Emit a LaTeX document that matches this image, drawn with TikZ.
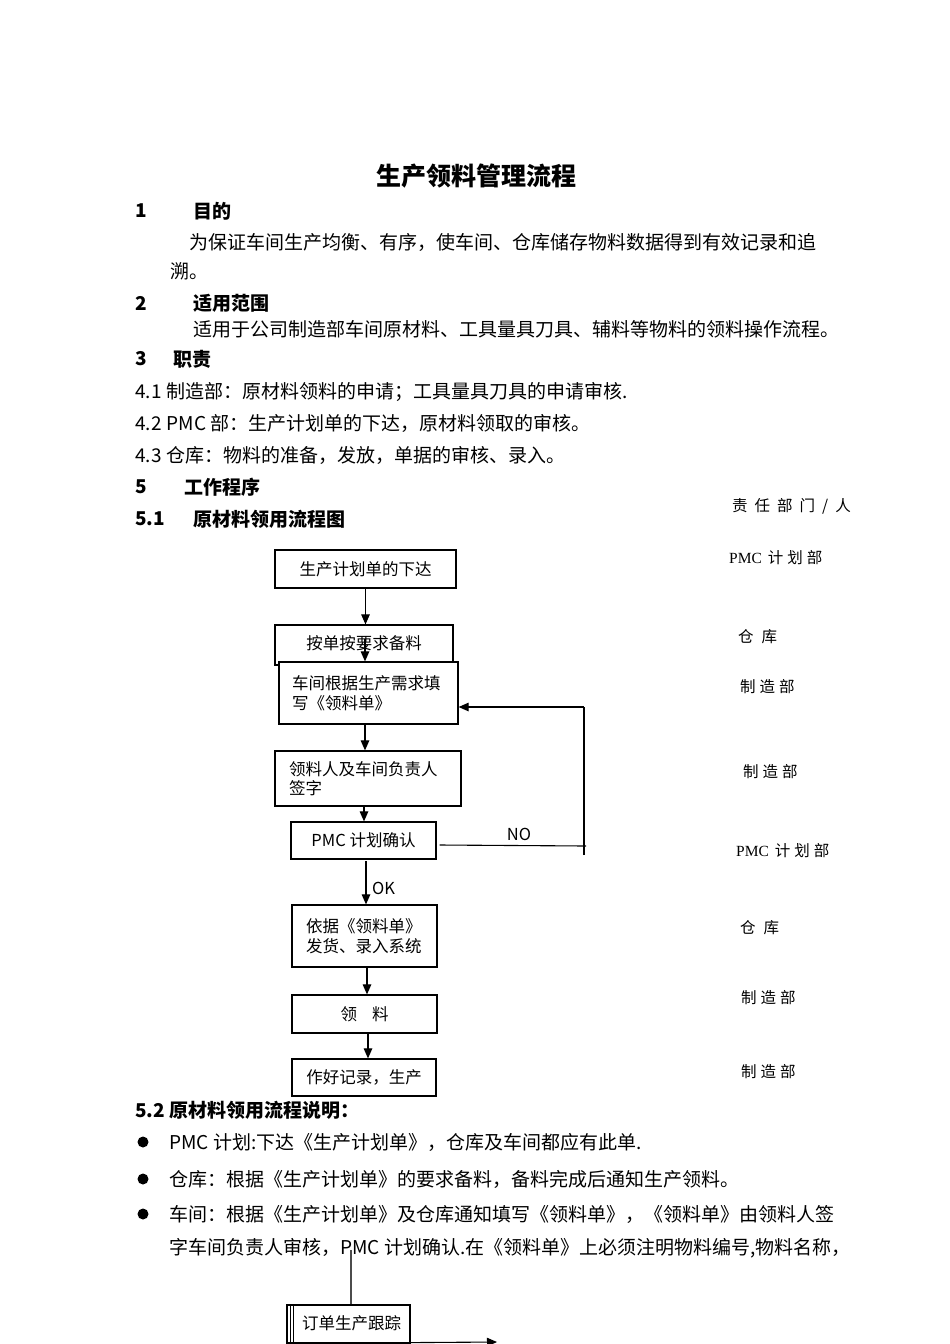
\documentclass[tikz,border=0pt]{standalone}
\usepackage{fontspec}
\setmainfont{Noto Sans CJK SC}
\newfontfamily\tms{Liberation Serif}
\usetikzlibrary{arrows.meta}
\newcommand{\bodysz}{\fontsize{19}{22}\selectfont}
\newcommand{\boxsz}{\fontsize{16.5}{19.5}\selectfont}
\newcommand{\lblsz}{\fontsize{15.5}{18}\selectfont}
\newcommand{\kw}{\kern7pt}
\newcommand{\kn}{\kern4pt}
\tikzset{
  txt/.style={anchor=west, inner sep=0pt, font=\bodysz},
  hd/.style={anchor=west, inner sep=0pt, font=\bodysz\bfseries},
  lbl/.style={anchor=west, inner sep=0pt, font=\lblsz},
  box/.style={draw, line width=1.2pt, inner sep=0pt, font=\boxsz, fill=white},
  mbox/.style={box, align=left, inner ysep=0pt},
  arr/.style={-{Triangle[length=10pt,width=8.5pt]}, line width=1.1pt},
  ln/.style={line width=1.1pt},
  dot/.style={circle, fill=black, inner sep=0pt, minimum size=11pt}
}
\begin{document}
\begin{tikzpicture}[x=1pt,y=-1pt]
\useasboundingbox (0,0) rectangle (950,1344);
% title
\node[inner sep=0pt, font=\fontsize{25}{28}\selectfont\bfseries] (title) at (476,176) {生产领料管理流程};
% section 1
\node[hd] (n1) at (135,211) {1};
\node[hd] (h1) at (193,211) {目的};
\node[txt] (p1a) at (189,242) {为保证车间生产均衡、有序，使车间、仓库储存物料数据得到有效记录和追};
\node[txt] (p1b) at (170,271) {溯。};
% section 2
\node[hd] (n2) at (135,303) {2};
\node[hd] (h2) at (193,303) {适用范围};
\node[txt] (p2) at (193,329) {适用于公司制造部车间原材料、工具量具刀具、辅料等物料的领料操作流程。};
% section 3
\node[hd] (n3) at (135,359) {3};
\node[hd] (h3) at (173,359) {职责};
\node[txt] (p41) at (135,392) {4.1\kern5pt 制造部：原材料领料的申请；工具量具刀具的申请审核.};
\node[txt] (p42) at (135,423) {4.2\kern5pt PMC 部：生产计划单的下达，原材料领取的审核。};
\node[txt] (p43) at (135,455) {4.3\kern5pt 仓库：物料的准备，发放，单据的审核、录入。};
% section 5
\node[hd] (n5) at (135,487) {5};
\node[hd] (h5) at (184,487) {工作程序};
\node[hd] (n51) at (135,519) {5.1};
\node[hd] (h51) at (193,519) {原材料领用流程图};
% responsibility column
\node[lbl] (r0) at (732,506) {责\kw 任\kw 部\kw 门\kw /\kw 人};
\node[lbl] (r1) at (729,558) {{\tms PMC}\kern6pt 计\kn 划\kn 部};
\node[lbl] (r2) at (738,637) {仓\kern8pt 库};
\node[lbl] (r3) at (740,687) {制\kn 造\kn 部};
\node[lbl] (r4) at (743,772) {制\kn 造\kn 部};
\node[lbl] (r5) at (736,851) {{\tms PMC}\kern6pt 计\kn 划\kn 部};
\node[lbl] (r6) at (740,928) {仓\kern8pt 库};
\node[lbl] (r7) at (741,998) {制\kn 造\kn 部};
\node[lbl] (r8) at (741,1072) {制\kn 造\kn 部};
% flowchart boxes
\node[box, minimum width=181pt, minimum height=38pt] (b1) at (365.5,569) {生产计划单的下达};
\node[box, minimum width=178pt, minimum height=40pt, text depth=4pt] (b2) at (364,645) {按单按要求备料};
\node[mbox, text width=153pt, inner xsep=13pt, minimum height=62pt] (b3) at (368.5,693) {车间根据生产需求填\\写《领料单》};
\node[mbox, text width=158pt, inner xsep=14pt, minimum height=55pt] (b4) at (368,778.5) {领料人及车间负责人\\签字};
\node[box, minimum width=145pt, minimum height=37pt] (b5) at (363.5,840.5) {PMC 计划确认};
\node[mbox, text width=117pt, inner xsep=14pt, minimum height=62pt] (b6) at (364.5,936) {依据《领料单》\\发货、录入系统};
\node[box, minimum width=145pt, minimum height=38pt] (b7) at (364.5,1014) {领\hspace{15pt}料};
\node[box, minimum width=144pt, minimum height=37pt] (b8) at (364,1077.5) {作好记录，生产};
% connectors
\draw[arr] (b1.south) -- (b1.south |- b2.north);
\coordinate (a2) at (365,639);
\draw[arr] (a2) -- (a2 |- b3.north);
\coordinate (a3) at (365,724);
\draw[arr] (a3) -- (a3 |- b4.north);
\coordinate (a4) at (364,806);
\draw[arr] (a4) -- (a4 |- b5.north);
\coordinate (a5) at (366,861);
\draw[arr] (a5) -- (a5 |- b6.north);
\node[inner sep=0pt, anchor=west, font=\boxsz] (ok) at (372,888) {OK};
\coordinate (a6) at (367,968);
\draw[arr] (a6) -- (a6 |- b7.north);
\coordinate (a7) at (368,1034);
\draw[arr] (a7) -- (a7 |- b8.north);
% NO loop
\coordinate (nr) at (586,846);
\coordinate (nb) at (584,855);
\coordinate (nt) at (584,707);
\draw[ln] ([xshift=3pt,yshift=-4.5pt]b5.east) -- (nr);
\draw[ln] (nb) -- (nt);
\draw[arr] (nt) -- (b3.east |- nt);
\node[inner sep=0pt, font=\boxsz] (no) at (519,834) {NO};
% section 5.2
\node[hd] (h52) at (135,1110) {5.2 原材料领用流程说明：};
\node[dot] (d1) at (143,1142) {};
\node[dot] (d2) at (143,1179) {};
\node[dot] (d3) at (143,1214) {};
\node[txt] (q1) at (169,1142) {PMC 计划:下达《生产计划单》，仓库及车间都应有此单.};
\node[txt] (q2) at (169,1179) {仓库：根据《生产计划单》的要求备料，备料完成后通知生产领料。};
\node[txt] (q3) at (169,1214) {车间：根据《生产计划单》及仓库通知填写《领料单》，《领料单》由领料人签};
\node[txt] (q4) at (169,1248) {字车间负责人审核，PMC 计划确认.在《领料单》上必须注明物料编号,物料名称，};
% bottom fragment
\node[draw, line width=1.2pt, inner sep=0pt, minimum width=123pt, minimum height=38pt, font=\boxsz, text depth=2pt, fill=white] (b9) at (348.5,1324) {\hspace{6pt}订单生产跟踪};
\coordinate (v1) at (351,1250);
\draw[line width=1.1pt, black!70] (v1) -- (v1 |- b9.north);
\draw[line width=0.8pt] (290,1305) -- (290,1344);
\draw[line width=0.8pt] (293,1305) -- (293,1344);
\coordinate (e9) at (497,1342);
\draw[arr] (b9.south east) ++(0,-1) -- (e9);
\end{tikzpicture}
\end{document}
